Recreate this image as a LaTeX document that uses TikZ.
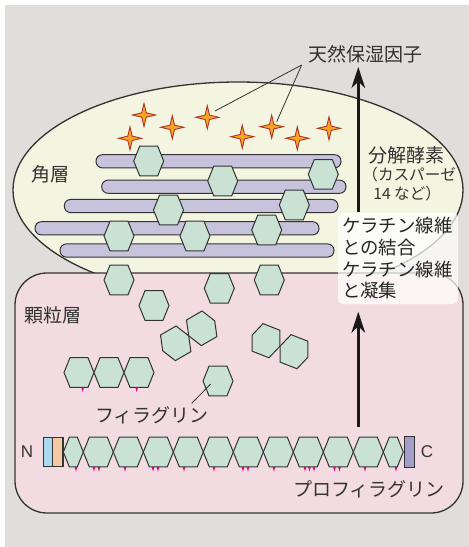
\documentclass[tikz,border=0pt]{standalone}
\usepackage{fontspec}
\usepackage{xcolor}
\usepackage{tikz}
\usetikzlibrary{arrows.meta}
\newfontfamily\jpfont{Noto Sans CJK JP}
\setsansfont{Liberation Sans}

\definecolor{bggrey}{HTML}{E1DDDA}
\definecolor{hornyellow}{HTML}{F4F5E0}
\definecolor{granpink}{HTML}{F2DCE2}
\definecolor{hexgreen}{HTML}{C9E2D3}
\definecolor{fiberlav}{HTML}{C7C3DD}
\definecolor{starorange}{HTML}{F7A623}
\definecolor{stardark}{HTML}{B3322A}
\definecolor{nblue}{HTML}{A9D9EE}
\definecolor{npeach}{HTML}{F3C9A6}
\definecolor{cpurple}{HTML}{A29EC8}
\definecolor{tickmag}{HTML}{E4007F}
\definecolor{ink}{HTML}{333333}

\tikzset{
  hexline/.style={fill=hexgreen, draw=ink, line width=0.5pt},
  hexa/.pic={\path[hexline] (-15,0) -- (-9,-14.8) -- (9,-14.8) -- (15,0) -- (9,14.8) -- (-9,14.8) -- cycle;},
  halfhexa/.pic={\path[hexline] (-10,0) -- (-4,-14.8) -- (4,-14.8) -- (10,0) -- (4,14.8) -- (-4,14.8) -- cycle;},
  nmf/.pic={\path[fill=starorange, draw=stardark, line width=0.45pt]
    (0,-11.5) -- (2.2,-2.2) -- (11.5,0) -- (2.2,2.2) -- (0,11.5) -- (-2.2,2.2) -- (-11.5,0) -- (-2.2,-2.2) -- cycle;},
  fiber/.style={fill=fiberlav, draw=ink, line width=0.5pt, rounded corners=3.2pt},
  jptext/.style={font=\jpfont\fontsize{9.5}{11}\selectfont, text=ink, inner sep=0pt},
  smalljp/.style={font=\jpfont\fontsize{7.8}{9.25}\selectfont, text=ink, inner sep=0pt, align=left},
  termtext/.style={font=\sffamily\fontsize{8.5}{10}\selectfont, text=ink, inner sep=0pt},
  keybox/.style={fill=white, fill opacity=0.72, text opacity=1, rounded corners=2.5pt,
    minimum width=60pt, minimum height=45.6pt, text width=56pt, align=left,
    inner xsep=2pt, inner ysep=0pt, font=\jpfont\fontsize{9.2}{10.85}\selectfont, text=black!85},
  leader/.style={draw=ink, line width=0.4pt},
  uparrow/.style={draw=black!90, line width=1.35pt, -{Stealth[length=10.5pt, width=6.8pt, inset=3.2pt]}},
  termbox/.style={draw=ink, line width=0.6pt}
}

\begin{document}
\begin{tikzpicture}[x=0.5pt, y=-0.5pt]
  \useasboundingbox (0,0) rectangle (469,547);
  \fill[bggrey] (5,5) rectangle (469,547);

  % stratum corneum (ellipse) and granular layer (rounded box)
  \draw[fill=hornyellow, draw=ink, line width=0.65pt] (238,190) ellipse [x radius=112.5pt, y radius=54pt];
  \draw[fill=granpink, draw=ink, line width=0.65pt, rounded corners=16pt] (15,273) rectangle (463,513);

  % keratin fibres
  \foreach \xa/\xb/\yc in {96/341/161.3, 101.7/346/186.7, 64.3/338/206, 35/319/228.3, 60/334/250.5}
    \draw[fiber] (\xa,\yc-6.6) rectangle (\xb,\yc+6.6);

  % filaggrin bound to the fibres
  \foreach \p in {(148.7,161), (222.7,181), (323.3,174.3), (168.5,210), (294.3,205),
                  (119,236), (195,236), (266.7,230)}
    \pic at \p {hexa};

  % free filaggrin in the granular layer
  \foreach \p in {(119,280), (154,305.5), (219.3,288.3), (269.3,280),
                  (79,372.5), (109,372.5), (139,372.5), (218,381)}
    \pic at \p {hexa};
  \pic[rotate=30] at (175.7,343.3) {hexa};
  \pic[rotate=30] at (201.7,328.3) {hexa};
  \pic[rotate=-21.4] at (266,340.7) {hexa};
  \pic[rotate=-21.4] at (294,351.7) {hexa};
  \foreach \m in {82.7,136.7}
    \fill[tickmag] (\m-1.4,387.3) -- (\m+1.4,387.3) -- (\m,392) -- cycle;

  % natural moisturizing factor
  \foreach \p in {(144,115), (172.3,127.3), (207.3,117.3), (130,138.3),
                  (242.3,136.7), (271.7,126.7), (297.3,138.3), (329,128.3)}
    \pic at \p {nmf};

  % labels
  \node[jptext] (nmf label) at (365,54) {天然保湿因子};
  \coordinate (nmf root) at (301.7,65);
  \coordinate (star a) at (215,111);
  \coordinate (star b) at (276.7,121.7);
  \draw[leader] (nmf root) -- (star a);
  \draw[leader] (nmf root) -- (star b);

  \node[jptext] (horn) at (50.5,174.5) {角層};
  \node[jptext] (gran) at (53,315.5) {顆粒層};
  \node[jptext, anchor=west] (enzyme) at (368,155.5) {分解酵素};
  \node[smalljp, anchor=west] (casp) at (362,184.3) {（カスパーゼ\\\hspace*{5.5pt}14 など）};

  \node[jptext] (fil label) at (152,415) {フィラグリン};
  \coordinate (fil root) at (191.7,403.3);
  \coordinate (fil hex) at (210.7,384);
  \draw[leader] (fil root) -- (fil hex);

  % binding / aggregation box and the two arrows
  \node[keybox] (bind) at (398,258.4) {ケラチン線維\\との結合\\ケラチン線維\\と凝集};
  \coordinate (enz tip) at (358.3,67);
  \coordinate (pro root) at (358.3,427);
  \coordinate (pro tip) at (358.3,311.7);
  \draw[uparrow] (bind.north -| enz tip) -- (enz tip);
  \draw[uparrow] (pro root) -- (pro tip);

  % profilaggrin chain
  \draw[termbox, fill=nblue] (43.3,437.2) rectangle (52.7,466.8);
  \draw[termbox, fill=npeach] (52.7,437.2) rectangle (62.9,466.8);
  \pic at (73.3,452) {halfhexa};
  \foreach \i in {0,...,9}
    \pic at ({98.3+30*\i},452) {hexa};
  \pic at (393.3,452) {halfhexa};
  \draw[termbox, fill=cpurple] (404.5,436.7) rectangle (414.3,467.3);
  \foreach \m in {76,94,99,125,153,158,184,214,243,248,274,305,309.5,314,334.5,339.5,365,396}
    \fill[tickmag] (\m-1.4,466.8) -- (\m+1.4,466.8) -- (\m,471.5) -- cycle;

  \node[termtext] (nterm) at (27,452) {N};
  \node[termtext] (cterm) at (427,452) {C};
  \node[jptext] (pro label) at (369,489) {プロフィラグリン};
\end{tikzpicture}
\end{document}
